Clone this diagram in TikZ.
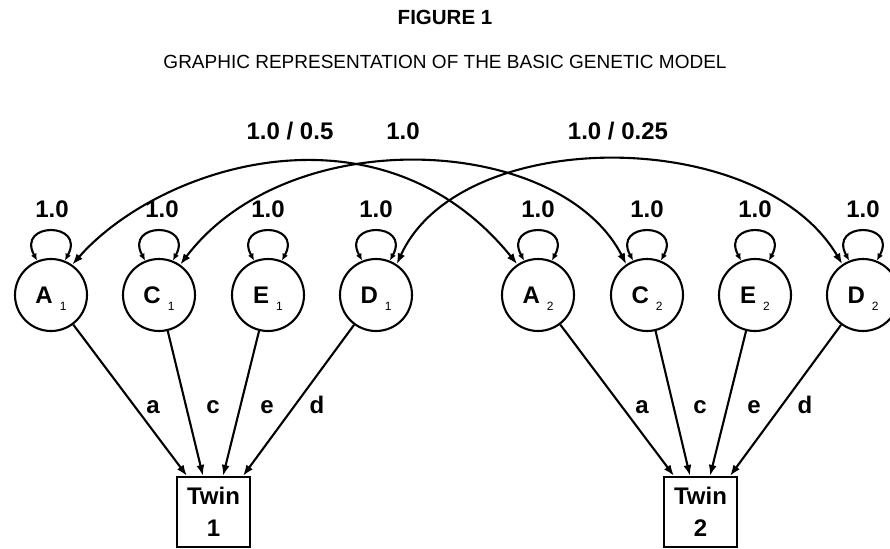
\documentclass[tikz,border=0pt]{standalone}
\usepackage{fontspec}
\setmainfont{Liberation Sans}
\usetikzlibrary{arrows.meta}
\newcommand\subsc[1]{\hspace{7pt}\smash{\raisebox{-7pt}{\fontsize{12}{12}\mdseries\selectfont #1}}}
\tikzset{
  lat/.style={circle, draw, line width=2.1pt, minimum size=72pt, inner sep=0pt,
    font=\bfseries\fontsize{24}{28}\selectfont},
  twinbox/.style={rectangle, draw, line width=2.1pt, minimum width=73pt, minimum height=70pt,
    inner sep=0pt, align=center, font=\bfseries\fontsize{24}{32}\selectfont},
  lbl/.style={anchor=base, inner sep=0pt, font=\bfseries\fontsize{24}{28}\selectfont},
  path/.style={line width=2.1pt, -{Latex[length=11pt,width=8pt]}},
  corr/.style={line width=2.1pt, {Latex[length=11pt,width=8pt]}-{Latex[length=11pt,width=8pt]}},
  var/.style={line width=2.1pt, {Latex[length=7pt,width=6pt]}-{Latex[length=7pt,width=6pt]}}
}
\begin{document}
\begin{tikzpicture}[x=1pt,y=-1pt]
\useasboundingbox (0,0) rectangle (890,548);
\clip (0,0) rectangle (890,548);
\fill[white] (0,0) rectangle (890,548);
% titles
\node[anchor=base, inner sep=0pt, font=\bfseries\fontsize{20.5}{24}\selectfont] (title) at (445,25) {FIGURE 1};
\node[anchor=base, inner sep=0pt, font=\fontsize{19}{22}\selectfont] (subtitle) at (445,69) {GRAPHIC REPRESENTATION OF THE BASIC GENETIC MODEL};
% latent variables
\node[lat] (A1) at (51,295) {A\subsc{1}};
\node[lat] (C1) at (159,295) {C\subsc{1}};
\node[lat] (E1) at (268,295) {E\subsc{1}};
\node[lat] (D1) at (376,295) {D\subsc{1}};
\node[lat] (A2) at (538,295) {A\subsc{2}};
\node[lat] (C2) at (647,295) {C\subsc{2}};
\node[lat] (E2) at (755,295) {E\subsc{2}};
\node[lat] (D2) at (863,295) {D\subsc{2}};
% twins
\node[twinbox] (T1) at (213.5,512) {Twin\\1};
\node[twinbox] (T2) at (700.5,512) {Twin\\2};
% target points on box tops
\coordinate (t1a) at ([xshift=-26.5pt]T1.north);
\coordinate (t1c) at ([xshift=-10.5pt]T1.north);
\coordinate (t1e) at ([xshift=9.5pt]T1.north);
\coordinate (t1d) at ([xshift=29.5pt]T1.north);
\coordinate (t2a) at ([xshift=-26.5pt]T2.north);
\coordinate (t2c) at ([xshift=-10.5pt]T2.north);
\coordinate (t2e) at ([xshift=9.5pt]T2.north);
\coordinate (t2d) at ([xshift=29.5pt]T2.north);
\draw[path] (A1) -- (t1a);
\draw[path] (C1) -- (t1c);
\draw[path] (E1) -- (t1e);
\draw[path] (D1) -- (t1d);
\draw[path] (A2) -- (t2a);
\draw[path] (C2) -- (t2c);
\draw[path] (E2) -- (t2e);
\draw[path] (D2) -- (t2d);
% path labels
\node[lbl] (la1) at (153,413) {a};
\node[lbl] (lc1) at (213,413) {c};
\node[lbl] (le1) at (267,413) {e};
\node[lbl] (ld1) at (317,413) {d};
\node[lbl] (la2) at (642,413) {a};
\node[lbl] (lc2) at (700,413) {c};
\node[lbl] (le2) at (754,413) {e};
\node[lbl] (ld2) at (805,413) {d};
% variance loops
\foreach \n in {A1,C1,E1,D1,A2,C2,E2,D2}{
  \draw[var] (\n.112) .. controls +(-21,-39) and +(21,-39) .. (\n.68);
}
\node[lbl] (vA1) at (52,217) {1.0};
\node[lbl] (vC1) at (162,217) {1.0};
\node[lbl] (vE1) at (268,217) {1.0};
\node[lbl] (vD1) at (376,217) {1.0};
\node[lbl] (vA2) at (538,217) {1.0};
\node[lbl] (vC2) at (647,217) {1.0};
\node[lbl] (vE2) at (755,217) {1.0};
\node[lbl] (vD2) at (863,217) {1.0};
% correlations
\draw[corr] (A1.55) .. controls (160,165) and (380,95) .. (A2.124);
\draw[corr] (C1.55) .. controls (290,120) and (560,135) .. (C2.124);
\draw[corr] (D1.56) .. controls (460,125) and (760,125) .. (D2.124);
\node[lbl] (cA) at (290,140) {1.0 / 0.5};
\node[lbl] (cC) at (403,140) {1.0};
\node[lbl] (cD) at (618,140) {1.0 / 0.25};
\end{tikzpicture}
\end{document}
